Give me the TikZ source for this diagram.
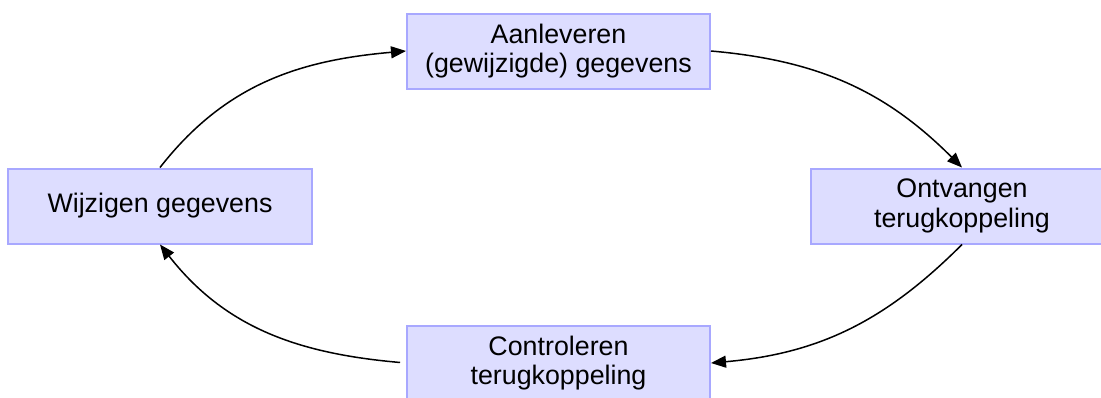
\documentclass[tikz,border=0pt]{standalone}
\usepackage{fontspec}
\setmainfont{Liberation Sans}
\usetikzlibrary{arrows.meta}
\definecolor{boxfill}{HTML}{DDDDFF}
\definecolor{boxline}{HTML}{A8A8FF}
\begin{document}
\begin{tikzpicture}[x=1pt,y=1pt,
  procbox/.style={rectangle, draw=boxline, fill=boxfill, line width=2pt,
    minimum width=303pt, minimum height=75pt, align=center, inner sep=0pt,
    font=\fontsize{26.8}{29.5}\selectfont},
  flow/.style={draw=black, line width=1.5pt, -{Triangle[length=15pt,width=12pt]}}]
\useasboundingbox (0,0) rectangle (1101,-397);
\fill[white] (0,0) rectangle (1101,-397);
\node[procbox] (top) at (558.5,-51) {Aanleveren\\(gewijzigde) gegevens};
\node[procbox, minimum width=304pt] (left) at (160,-206) {Wijzigen gegevens};
\node[procbox] (right) at (962,-206) {Ontvangen\\terugkoppeling};
\node[procbox] (bottom) at (558.5,-363) {Controleren\\terugkoppeling};
\draw[flow] (left.north) to[out=52,in=185] (top.west);
\draw[flow] (top.east) to[out=-5,in=135] (right.north);
\draw[flow] (right.south) to[out=-135,in=5] (bottom.east);
\draw[flow, shorten <=6pt] (bottom.west) to[out=175,in=-52] (left.south);
\end{tikzpicture}
\end{document}
